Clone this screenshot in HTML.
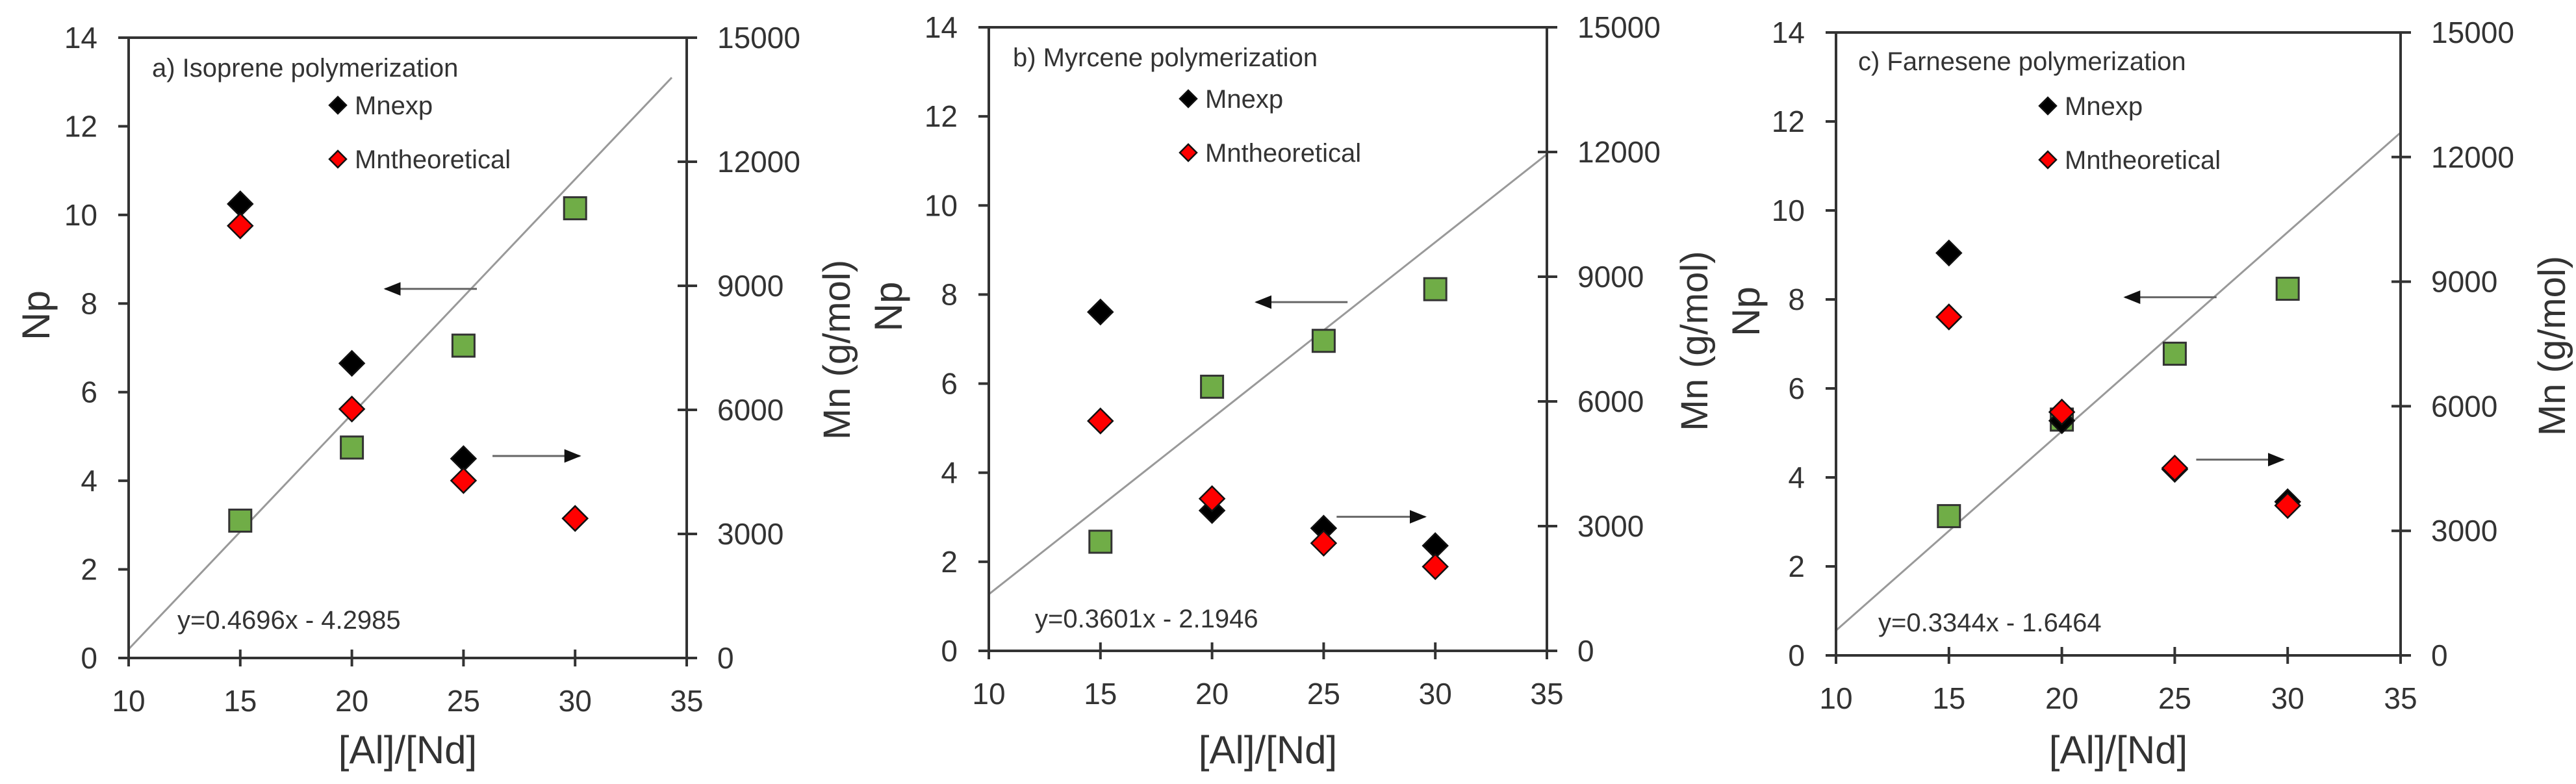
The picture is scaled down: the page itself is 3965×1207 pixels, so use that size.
<!DOCTYPE html>
<html><head><meta charset="utf-8"><style>
html,body{margin:0;padding:0;background:#fff;}
svg{display:block;font-family:"Liberation Sans",sans-serif;}
</style></head><body>
<svg id="fig" width="3965" height="1207" viewBox="0 0 3965 1207" xmlns="http://www.w3.org/2000/svg"></svg>
<script>
const xCats = [15, 20, 25, 30];
const xTicks = [10, 15, 20, 25, 30, 35];
const npTicks = [0, 2, 4, 6, 8, 10, 12, 14];
const mnTicks = [0, 3000, 6000, 9000, 12000, 15000];
const titles = ["a) Isoprene polymerization", "b) Myrcene polymerization", "c) Farnesene polymerization"];
const equations = ["y=0.4696x - 4.2985", "y=0.3601x - 2.1946", "y=0.3344x - 1.6464"];
const npA = [3.1, 4.75, 7.05, 10.15];
const npB = [2.45, 5.93, 6.96, 8.12];
const npC = [3.13, 5.3, 6.78, 8.24];
const mnExpA = [10980, 7125, 4820, 3375];
const mnExpB = [8150, 3375, 2950, 2530];
const mnExpC = [9690, 5650, 4480, 3700];
const mnTheoA = [10450, 6020, 4290, 3375];
const mnTheoB = [5530, 3660, 2590, 2025];
const mnTheoC = [8150, 5860, 4510, 3610];
const fitA = [[10, 0.2], [34.33, 13.1]];
const fitB = [[10, 1.27], [35, 11.15]];
const fitC = [[10, 0.56], [35, 11.75]];
const arrowLeftA = [[25.6, 21.5], 8.33];
const arrowRightA = [[26.3, 30.2], 4.56];
const arrowLeftB = [[26.07, 21.98], 7.83];
const arrowRightB = [[25.58, 29.54], 3.01];
const arrowLeftC = [[26.85, 22.8], 8.05];
const arrowRightC = [[25.95, 29.8], 4.4];

const panels = [
 {L:198,R:1057,T:58,B:1013,np:npA,me:mnExpA,mt:mnTheoA,fit:fitA,al:arrowLeftA,ar:arrowRightA,t:[234,104],lg:[520,162,245],eq:[273,954],npx:55,mnx:1287,id:'a'},
 {L:1522,R:2381,T:42,B:1002,np:npB,me:mnExpB,mt:mnTheoB,fit:fitB,al:arrowLeftB,ar:arrowRightB,t:[1559,88],lg:[1829,152,235],eq:[1593,952],npx:1367,mnx:2607,id:'b'},
 {L:2826,R:3695,T:50,B:1009,np:npC,me:mnExpC,mt:mnTheoC,fit:fitC,al:arrowLeftC,ar:arrowRightC,t:[2860,94],lg:[3152,163,246],eq:[2891,958],npx:2687,mnx:3927,id:'c'}
];
const NS='http://www.w3.org/2000/svg';
const svg=document.getElementById('fig');
function mk(tag,attrs,parent,text){const e=document.createElementNS(NS,tag);for(const k in attrs)e.setAttribute(k,attrs[k]);if(text!==undefined)e.textContent=text;(parent||svg).appendChild(e);return e;}
const defs=mk('defs',{});
const mkr=mk('marker',{id:'ah',viewBox:'0 0 10 10',refX:'9',refY:'5',markerWidth:'8',markerHeight:'8',orient:'auto',markerUnits:'userSpaceOnUse'},defs);
mkr.setAttribute('markerWidth','26');mkr.setAttribute('markerHeight','26');
mk('path',{d:'M0,1 L10,5 L0,9 z',fill:'#111'},mkr);
function diamond(g,cx,cy,h,fill){return mk('polygon',{points:`${cx},${cy-h} ${cx+h},${cy} ${cx},${cy+h} ${cx-h},${cy}`,fill:fill,stroke:'#111','stroke-width':2.5},g);}

panels.forEach(p=>{
 const xs=v=>p.L+(v-10)/25*(p.R-p.L);
 const ys=v=>p.B-v/14*(p.B-p.T);
 const ym=v=>p.B-v/15000*(p.B-p.T);
 const g=mk('g',{});
 
 
 // fit line
 const fl=mk('line',{x1:xs(p.fit[0][0]),y1:ys(p.fit[0][1]),x2:xs(p.fit[1][0]),y2:ys(p.fit[1][1]),stroke:'#999','stroke-width':3},g);
 
 
 // axes box
 const ax=mk('rect',{x:p.L,y:p.T,width:p.R-p.L,height:p.B-p.T,fill:'none',stroke:'#333','stroke-width':4},g);
 
 
 xTicks.forEach(v=>{
  mk('line',{x1:xs(v),x2:xs(v),y1:p.B-13,y2:p.B+13,stroke:'#333','stroke-width':4},g);
  const t=mk('text',{x:xs(v),y:p.B+82,'font-size':46,'text-anchor':'middle',fill:'#333'},g,String(v));
  
  
 });
 npTicks.forEach(v=>{
  mk('line',{x1:p.L-16,x2:p.L,y1:ys(v),y2:ys(v),stroke:'#333','stroke-width':4},g);
  const t=mk('text',{x:p.L-48,y:ys(v)+16,'font-size':46,'text-anchor':'end',fill:'#333'},g,String(v));
  
  
 });
 mnTicks.forEach(v=>{
  mk('line',{x1:p.R-14,x2:p.R+16,y1:ym(v),y2:ym(v),stroke:'#333','stroke-width':4},g);
  const t=mk('text',{x:p.R+47,y:ym(v)+16,'font-size':46,fill:'#333'},g,String(v));
  
  
 });
 const xt=mk('text',{x:(p.L+p.R)/2,y:1175,'font-size':60,'text-anchor':'middle',fill:'#333'},g,'[Al]/[Nd]');
 
 
 const cy=(p.T+p.B)/2;
 const yt=mk('text',{x:0,y:0,'font-size':60,'text-anchor':'middle',fill:'#333',transform:`translate(${p.npx+21},${cy-50}) rotate(-90)`},g,'Np');
 
 
 const mt=mk('text',{x:0,y:0,'font-size':58,'text-anchor':'middle',fill:'#333',transform:`translate(${p.mnx+21},${cy+3}) rotate(-90)`},g,'Mn (g/mol)');
 
 
 const tt=mk('text',{x:p.t[0],y:p.t[1]+14,'font-size':40,fill:'#333'},g,titles['abc'.indexOf(p.id)]);
 
 
 const eq=mk('text',{x:p.eq[0],y:p.eq[1]+14,'font-size':40,fill:'#333'},g,equations['abc'.indexOf(p.id)]);
 
 
 // legend
 const l1=diamond(g,p.lg[0],p.lg[1],13,'#000');
 
 
 const lt1=mk('text',{x:p.lg[0]+26,y:p.lg[1]+14,'font-size':40,fill:'#333'},g,'Mnexp');
 
 
 const l2=diamond(g,p.lg[0],p.lg[2],13,'#f00');
 
 
 const lt2=mk('text',{x:p.lg[0]+26,y:p.lg[2]+14,'font-size':40,fill:'#333'},g,'Mntheoretical');
 
 
 // arrows
 const a1=mk('line',{x1:xs(p.al[0][0]),x2:xs(p.al[0][1]),y1:ys(p.al[1]),y2:ys(p.al[1]),stroke:'#666','stroke-width':3,'marker-end':'url(#ah)'},g);
 
 
 const a2=mk('line',{x1:xs(p.ar[0][0]),x2:xs(p.ar[0][1]),y1:ys(p.ar[1]),y2:ys(p.ar[1]),stroke:'#666','stroke-width':3,'marker-end':'url(#ah)'},g);
 
 
 // squares (Np)
 xCats.forEach((c,i)=>{
  const s=mk('rect',{x:xs(c)-17,y:ys(p.np[i])-17,width:34,height:34,fill:'#70ad47',stroke:'#333','stroke-width':3},g);
  
  
 });
 xCats.forEach((c,i)=>{
  const d=diamond(g,xs(c),ym(p.me[i]),19,'#000');
  
  
 });
 xCats.forEach((c,i)=>{
  const d=diamond(g,xs(c),ym(p.mt[i]),19,'#f00');
  
  
 });
});
</script>
</body></html>
